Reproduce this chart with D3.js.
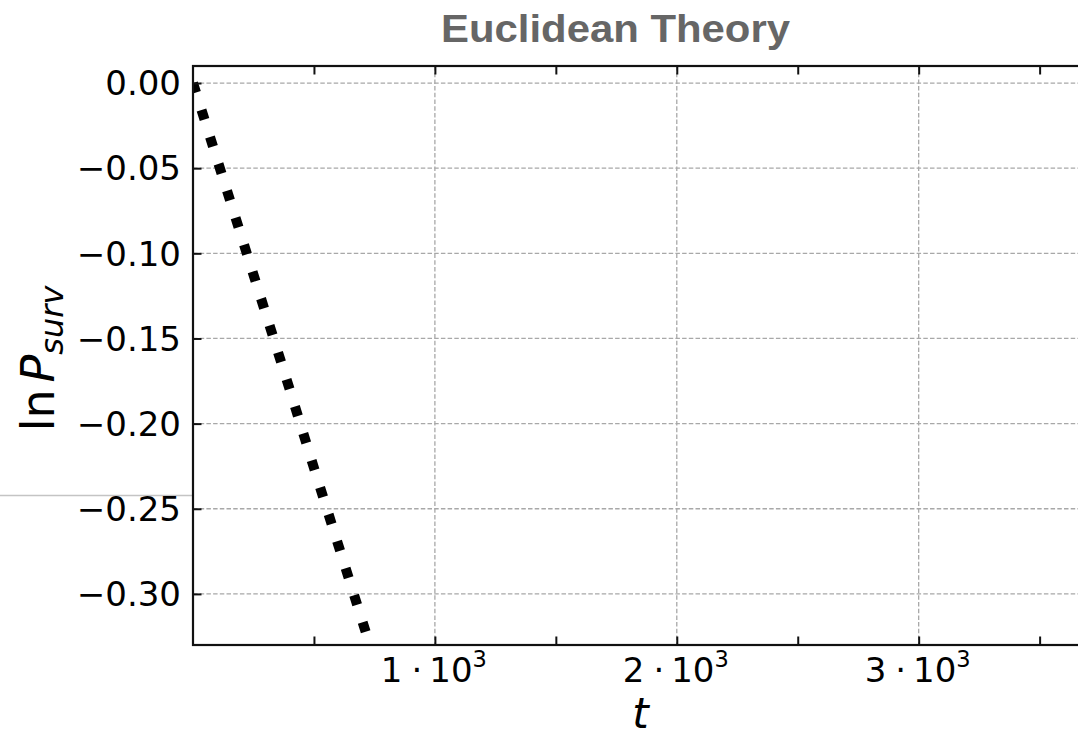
<!DOCTYPE html>
<html>
<head>
<meta charset="utf-8">
<script src="https://cdn.jsdelivr.net/npm/d3@7"></script>
<style>
  html, body { margin: 0; padding: 0; background: #fff; }
  svg { display: block; }
</style>
</head>
<body>
<svg id="chart" width="1078" height="730"></svg>
<script>
// Survival curve: time t and ln P_surv
const times = [0, 100, 200, 300, 400, 500, 600, 700, 740];
const lnPsurv = [0.000, -0.045, -0.090, -0.135, -0.180, -0.226, -0.271, -0.316, -0.334];

// Axis ticks
const xMajorTicks = [1000, 2000, 3000];
const xMinorTicks = [500, 1000, 1500, 2000, 2500, 3000, 3500];
const xTickMantissa = ["1", "2", "3"];
const xTickExponent = "3";
const yTicks = [0.00, -0.05, -0.10, -0.15, -0.20, -0.25, -0.30];

const chartTitle = "Euclidean Theory";

(function draw() {
  const svg = d3.select("#chart");
  const W = 1078, H = 730;
  const mLeft = 193, mTop = 66, mRight = 1088, mBottom = 645;

  const x = d3.scaleLinear().domain([0, 3700]).range([mLeft, mRight]);
  const y = d3.scaleLinear().domain([0.01, -0.33]).range([mTop, mBottom]);

  svg.append("rect").attr("width", W).attr("height", H).attr("fill", "#fff");

  // thin rule at the left margin
  svg.append("line")
    .attr("x1", 0).attr("x2", mLeft).attr("y1", 495.5).attr("y2", 495.5)
    .attr("stroke", "#c4c4c4").attr("stroke-width", 1.5);

  svg.append("defs").append("clipPath").attr("id", "plotclip")
    .append("rect").attr("x", mLeft).attr("y", mTop)
    .attr("width", mRight - mLeft).attr("height", mBottom - mTop);

  // grid
  const grid = svg.append("g").attr("stroke", "#a8a8a8").attr("stroke-width", 1.3)
    .attr("stroke-dasharray", "4.5,2.2").attr("fill", "none");
  grid.selectAll("line.h").data(yTicks).join("line").attr("class", "h")
    .attr("x1", mLeft).attr("x2", mRight)
    .attr("y1", d => y(d)).attr("y2", d => y(d));
  grid.selectAll("line.v").data(xMajorTicks).join("line").attr("class", "v")
    .attr("y1", mTop).attr("y2", mBottom)
    .attr("x1", d => x(d)).attr("x2", d => x(d));

  // curve
  const line = d3.line().x((d, i) => x(times[i])).y(d => y(d));
  svg.append("path")
    .datum(lnPsurv)
    .attr("clip-path", "url(#plotclip)")
    .attr("d", line)
    .attr("fill", "none")
    .attr("stroke", "#000")
    .attr("stroke-width", 10)
    .attr("stroke-dasharray", "10,18.26")
    .attr("stroke-linecap", "butt");

  // axes with inward ticks
  const tickLen = 8.5;
  const xBottom = d3.axisBottom(x).tickValues(xMinorTicks).tickSizeInner(-tickLen).tickSizeOuter(0).tickFormat("");
  const xTop = d3.axisTop(x).tickValues(xMinorTicks).tickSizeInner(-tickLen).tickSizeOuter(0).tickFormat("");
  const yLeft = d3.axisLeft(y).tickValues(yTicks).tickSizeInner(-tickLen).tickSizeOuter(0).tickFormat("");

  function styleAxis(g) {
    g.select(".domain").remove();
    g.selectAll(".tick line").attr("stroke", "#111").attr("stroke-width", 2);
  }
  svg.append("g").attr("transform", `translate(0,${mBottom})`).call(xBottom).call(styleAxis);
  svg.append("g").attr("transform", `translate(0,${mTop})`).call(xTop).call(styleAxis);
  svg.append("g").attr("transform", `translate(${mLeft},0)`).call(yLeft).call(styleAxis);

  // spines
  svg.append("rect")
    .attr("x", mLeft).attr("y", mTop).attr("width", mRight - mLeft).attr("height", mBottom - mTop)
    .attr("fill", "none").attr("stroke", "#111").attr("stroke-width", 2.2);

  // y tick labels
  const fmtY = d3.format(".2f");
  svg.append("g").selectAll("text").data(yTicks).join("text")
    .attr("x", mLeft - 12).attr("y", d => y(d))
    .attr("dy", "0.36em")
    .attr("text-anchor", "end")
    .attr("font-family", "DejaVu Sans")
    .attr("font-size", 34)
    .attr("fill", "#000")
    .text(d => fmtY(d).replace("-", "\u2212"));

  // x tick labels: mantissa · 10^exponent
  const xl = svg.append("g").selectAll("text").data(xMajorTicks).join("text")
    .attr("x", d => x(d) - 1).attr("y", 682)
    .attr("text-anchor", "middle")
    .attr("font-family", "DejaVu Sans")
    .attr("font-size", 34)
    .attr("fill", "#000");
  xl.append("tspan").text((d, i) => xTickMantissa[i]);
  xl.append("tspan").attr("dx", 9).text("\u00B7");
  xl.append("tspan").attr("dx", 7).text("10");
  xl.append("tspan").attr("font-size", 22.5).attr("dy", -15).text(xTickExponent);

  // axis labels
  svg.append("text")
    .attr("x", (mLeft + mRight) / 2).attr("y", 728)
    .attr("text-anchor", "middle")
    .attr("font-family", "DejaVu Sans")
    .attr("font-style", "italic")
    .attr("font-size", 42)
    .attr("fill", "#000")
    .text("t");

  const yl = svg.append("text")
    .attr("transform", `translate(54,${(mTop + mBottom) / 2 + 3}) rotate(-90)`)
    .attr("text-anchor", "middle")
    .attr("font-family", "DejaVu Sans")
    .attr("font-size", 46)
    .attr("fill", "#000");
  yl.append("tspan").text("ln");
  yl.append("tspan").attr("dx", 7).attr("font-style", "italic").text("P");
  yl.append("tspan").attr("font-style", "italic").attr("font-size", 32).attr("dy", 9).text("surv");

  // title
  svg.append("text")
    .attr("x", 615.5).attr("y", 41.7)
    .attr("text-anchor", "middle")
    .attr("font-family", "Liberation Sans, Arial, sans-serif")
    .attr("font-weight", "bold")
    .attr("font-size", 38.5)
    .attr("textLength", 349)
    .attr("lengthAdjust", "spacingAndGlyphs")
    .attr("fill", "#666")
    .text(chartTitle);
})();
</script>
</body>
</html>
